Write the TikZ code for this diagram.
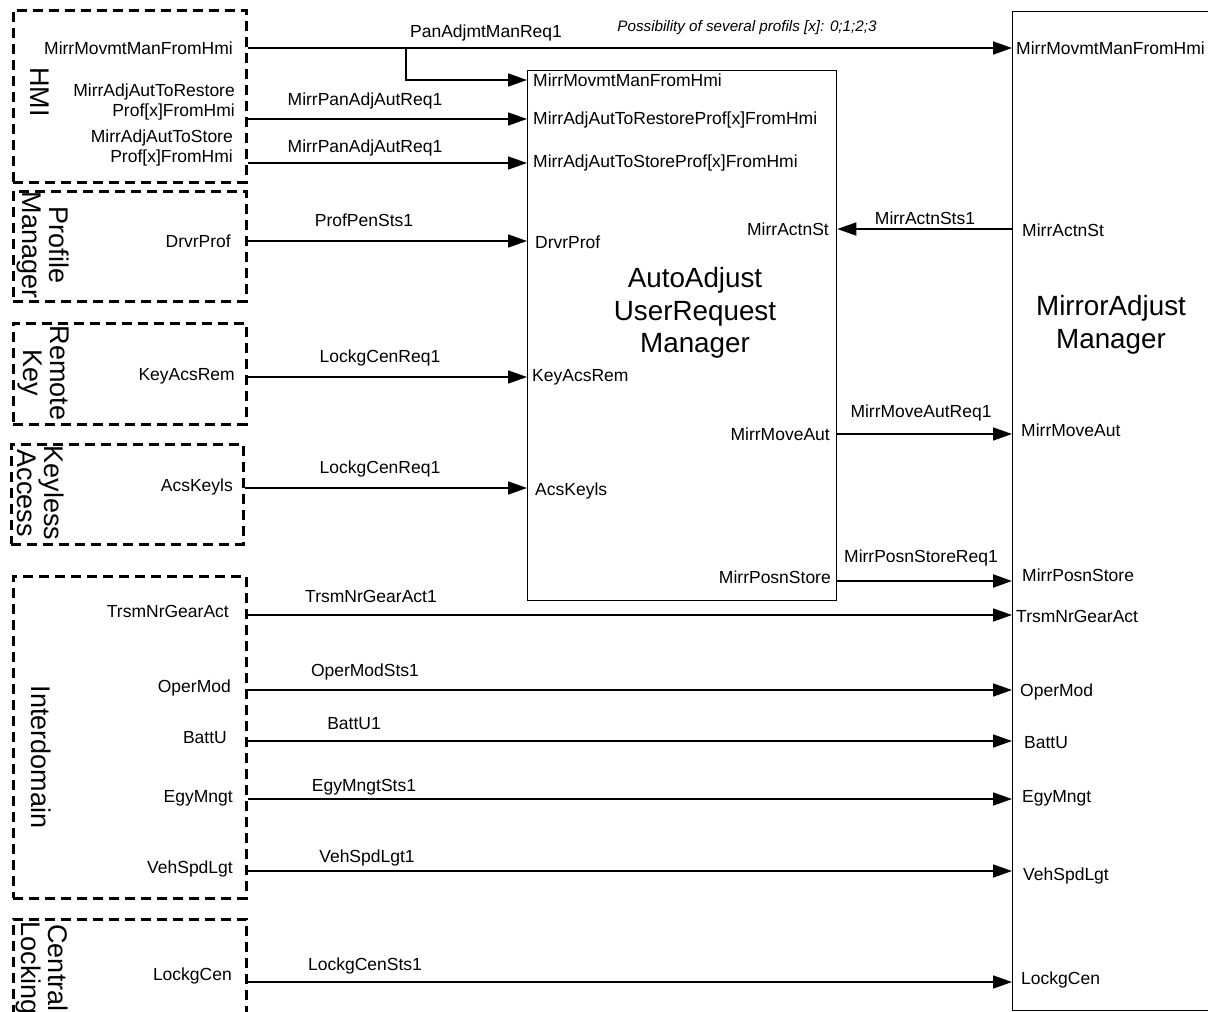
\documentclass[tikz,border=0pt]{standalone}
\usepackage{fontspec}
\setmainfont{Liberation Sans}
\usetikzlibrary{arrows.meta}
\begin{document}
\begin{tikzpicture}[x=1pt,y=-1pt,
  dbox/.style={draw, line width=2.6pt, dash pattern=on 10pt off 6pt, anchor=north west, inner sep=0pt},
  sbox/.style={draw, line width=1.3pt, anchor=north west, inner sep=0pt},
  conn/.style={line width=1.6pt, -{Triangle[length=19pt,width=13pt]}},
  lbl/.style={font=\fontsize{17.5}{20.5}\selectfont, inner sep=0pt},
  sig/.style={font=\fontsize{17.5}{20.5}\selectfont, inner sep=0pt},
  ttl/.style={font=\fontsize{27.8}{32.5}\selectfont, align=center, inner sep=0pt},
  rtl/.style={font=\fontsize{27}{27}\selectfont, align=center, inner sep=0pt, rotate=-90}
]
\useasboundingbox (0,0) rectangle (1208,1012);

% boxes
\node[dbox, minimum width=233pt, minimum height=172pt] (hmi) at (12,9) {};
\node[dbox, minimum width=233pt, minimum height=110pt] (prof) at (12,190) {};
\node[dbox, minimum width=233pt, minimum height=101pt] (rkey) at (12,322) {};
\node[dbox, minimum width=232pt, minimum height=100pt] (kless) at (10,443) {};
\node[dbox, minimum width=233pt, minimum height=322pt] (inter) at (12,575) {};
\node[dbox, minimum width=233pt, minimum height=120pt] (cloc) at (12,918) {};
\node[sbox, minimum width=309pt, minimum height=530pt] (aur) at (527,70) {};
\node[sbox, minimum width=230pt, minimum height=999pt] (mam) at (1012,11) {};

% titles
\node[rtl] (thmi) at (40,92) {HMI};
\node[rtl] (tprof) at (43,245) {Profile\\Manager};
\node[rtl] (trkey) at (43,373) {Remote\\Key};
\node[rtl] (tkless) at (41,493) {Keyless\\Access};
\node[rtl] (tinter) at (41,757) {Interdomain};
\node[rtl] (tcloc) at (42,968) {Central\\Locking};
\node[ttl] (taur) at (695,313) {AutoAdjust\\UserRequest\\Manager};
\node[ttl] (tmam) at (1111,325) {MirrorAdjust\\Manager};

% source port labels
\node[lbl, anchor=east] (s1) at (233,48) {MirrMovmtManFromHmi};
\node[lbl, anchor=east, align=right] (s2) at (235,102) {MirrAdjAutToRestore\\Prof[x]FromHmi};
\node[lbl, anchor=east, align=right] (s3) at (233,148) {MirrAdjAutToStore\\Prof[x]FromHmi};
\node[lbl, anchor=east] (s4) at (231,241) {DrvrProf};
\node[lbl, anchor=east] (s5) at (235,376) {KeyAcsRem};
\node[lbl, anchor=east] (s6) at (233,487) {AcsKeyls};
\node[lbl, anchor=east] (s7) at (229,611) {TrsmNrGearAct};
\node[lbl, anchor=east] (s8) at (231,688) {OperMod};
\node[lbl, anchor=east] (s9) at (227,738) {BattU};
\node[lbl, anchor=east] (s10) at (233,798) {EgyMngt};
\node[lbl, anchor=east] (s11) at (233,869) {VehSpdLgt};
\node[lbl, anchor=east] (s12) at (232,976) {LockgCen};

% AutoAdjust ports
\node[lbl, anchor=west] (a1) at (533,80) {MirrMovmtManFromHmi};
\node[lbl, anchor=west] (a2) at (533,120) {MirrAdjAutToRestoreProf[x]FromHmi};
\node[lbl, anchor=west] (a3) at (533,163) {MirrAdjAutToStoreProf[x]FromHmi};
\node[lbl, anchor=west] (a4) at (535,242) {DrvrProf};
\node[lbl, anchor=west] (a5) at (532,377) {KeyAcsRem};
\node[lbl, anchor=west] (a6) at (535,491) {AcsKeyls};
\node[lbl, anchor=east] (a7) at (829,229) {MirrActnSt};
\node[lbl, anchor=east] (a8) at (830,434) {MirrMoveAut};
\node[lbl, anchor=east] (a9) at (831,577) {MirrPosnStore};

% MirrorAdjust ports
\node[lbl, anchor=west] (m1) at (1016,48) {MirrMovmtManFromHmi};
\node[lbl, anchor=west] (m2) at (1022,230) {MirrActnSt};
\node[lbl, anchor=west] (m3) at (1021,430) {MirrMoveAut};
\node[lbl, anchor=west] (m4) at (1022,575) {MirrPosnStore};
\node[lbl, anchor=west] (m5) at (1016,616) {TrsmNrGearAct};
\node[lbl, anchor=west] (m6) at (1020,692) {OperMod};
\node[lbl, anchor=west] (m7) at (1024,743) {BattU};
\node[lbl, anchor=west] (m8) at (1022,798) {EgyMngt};
\node[lbl, anchor=west] (m9) at (1023,876) {VehSpdLgt};
\node[lbl, anchor=west] (m10) at (1021,980) {LockgCen};

% connector y levels
\coordinate (y1) at (0,48);
\coordinate (y1b) at (0,80);
\coordinate (br) at (406,48);
\coordinate (y2) at (0,119);
\coordinate (y3) at (0,163);
\coordinate (y4) at (0,241);
\coordinate (y5) at (0,377);
\coordinate (y6) at (0,488);
\coordinate (y7) at (0,229);
\coordinate (y8) at (0,434);
\coordinate (y9) at (0,581);
\coordinate (y10) at (0,615);
\coordinate (y11) at (0,690);
\coordinate (y12) at (0,741);
\coordinate (y13) at (0,799);
\coordinate (y14) at (0,871);
\coordinate (y15) at (0,982);

% connectors
\draw[conn] (hmi.east |- y1) -- (mam.west |- y1);
\draw[conn] (br) |- (aur.west |- y1b);
\draw[conn] (hmi.east |- y2) -- (aur.west |- y2);
\draw[conn] (hmi.east |- y3) -- (aur.west |- y3);
\draw[conn] (prof.east |- y4) -- (aur.west |- y4);
\draw[conn] (rkey.east |- y5) -- (aur.west |- y5);
\draw[conn] (kless.east |- y6) -- (aur.west |- y6);
\draw[conn] (mam.west |- y7) -- (aur.east |- y7);
\draw[conn] (aur.east |- y8) -- (mam.west |- y8);
\draw[conn, line width=2.2pt] (aur.east |- y9) -- (mam.west |- y9);
\draw[conn] (inter.east |- y10) -- (mam.west |- y10);
\draw[conn] (inter.east |- y11) -- (mam.west |- y11);
\draw[conn] (inter.east |- y12) -- (mam.west |- y12);
\draw[conn] (inter.east |- y13) -- (mam.west |- y13);
\draw[conn] (inter.east |- y14) -- (mam.west |- y14);
\draw[conn] (cloc.east |- y15) -- (mam.west |- y15);

% signal labels
\node[sig] (n1) at (486,33) {PanAdjmtManReq1};
\node[font=\fontsize{15.2}{18}\selectfont\itshape, inner sep=0pt] (note) at (747,28) {Possibility of several profils [x]: 0;1;2;3};
\node[sig] (n2) at (365,101) {MirrPanAdjAutReq1};
\node[sig] (n3) at (365,148) {MirrPanAdjAutReq1};
\node[sig] (n4) at (364,220) {ProfPenSts1};
\node[sig] (n5) at (380,358) {LockgCenReq1};
\node[sig] (n6) at (380,469) {LockgCenReq1};
\node[sig] (n7) at (925,218) {MirrActnSts1};
\node[sig] (n8) at (921,413) {MirrMoveAutReq1};
\node[sig] (n9) at (921,558) {MirrPosnStoreReq1};
\node[sig] (n10) at (371,596) {TrsmNrGearAct1};
\node[sig] (n11) at (365,672) {OperModSts1};
\node[sig] (n12) at (354,724) {BattU1};
\node[sig] (n13) at (364,787) {EgyMngtSts1};
\node[sig] (n14) at (367,858) {VehSpdLgt1};
\node[sig] (n15) at (365,966) {LockgCenSts1};
\end{tikzpicture}
\end{document}
